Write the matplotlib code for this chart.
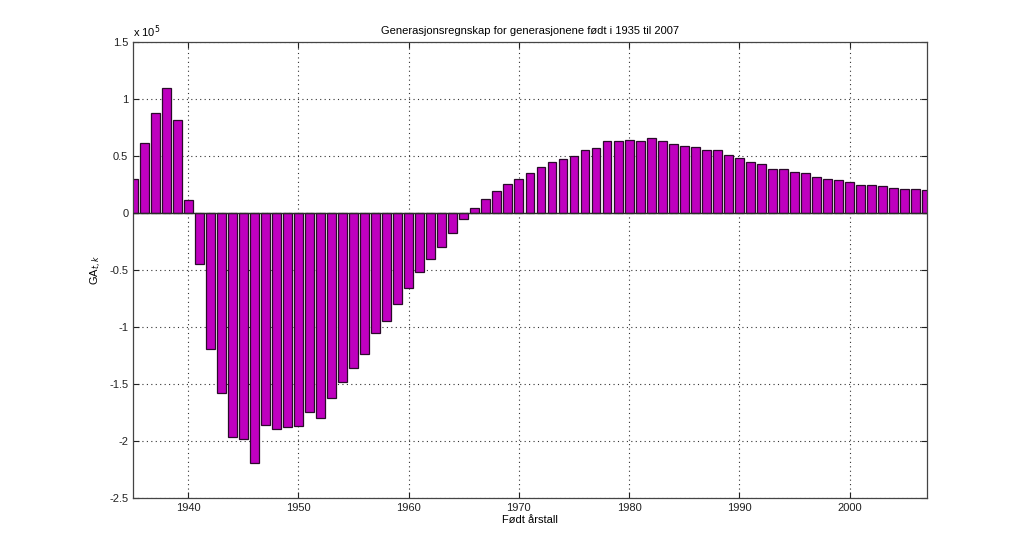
import matplotlib
matplotlib.use("Agg")
import matplotlib.pyplot as plt
from matplotlib.ticker import FuncFormatter, MultipleLocator

years = list(range(1935, 2008))
values_e5 = [
    0.30, 0.61, 0.876, 1.095, 0.814, 0.11,            # 1935-1940
    -0.446, -1.19, -1.58, -1.967, -1.98, -2.195,      # 1941-1946
    -1.86, -1.90, -1.88, -1.87, -1.747, -1.80,        # 1947-1952
    -1.627, -1.48, -1.36, -1.24, -1.056, -0.95,       # 1953-1958
    -0.80, -0.657, -0.522, -0.40, -0.297, -0.173,     # 1959-1964
    -0.056, 0.046, 0.12, 0.193, 0.25, 0.30,           # 1965-1970
    0.354, 0.404, 0.445, 0.474, 0.503, 0.55,          # 1971-1976
    0.574, 0.627, 0.627, 0.644, 0.63, 0.659,          # 1977-1982
    0.63, 0.609, 0.588, 0.583, 0.556, 0.55,           # 1983-1988
    0.512, 0.48, 0.448, 0.427, 0.389, 0.383,          # 1989-1994
    0.363, 0.348, 0.319, 0.298, 0.293, 0.272,         # 1995-2000
    0.249, 0.243, 0.234, 0.222, 0.207, 0.213, 0.199,  # 2001-2007
]
values = [v * 1e5 for v in values_e5]

plt.rcParams['font.family'] = ['Liberation Sans', 'DejaVu Sans']

fig = plt.figure(figsize=(10.24, 5.6), dpi=100)
ax = fig.add_axes([0.130, 0.111, 0.775, 0.814])

ax.bar(years, values, width=0.8, color='#BF00BF', edgecolor='#2a0a2a', linewidth=0.9, zorder=2)
ax.axhline(0, color='#2a2a2a', linewidth=1.0, zorder=3)

ax.set_xlim(1935, 2007)
ax.set_ylim(-2.5e5, 1.5e5)
ax.xaxis.set_major_locator(MultipleLocator(10))
ax.yaxis.set_major_locator(MultipleLocator(0.5e5))
ax.yaxis.set_major_formatter(FuncFormatter(lambda v, p: ('%g' % (v / 1e5))))

ax.grid(True, linestyle=(0, (1, 3)), color='#333333', linewidth=0.8, zorder=0)
ax.set_axisbelow(True)
ax.tick_params(direction='in', top=True, right=True, labelsize=8, length=4, width=0.8, colors='#222222')
for s in ax.spines.values():
    s.set_color('#444444')
    s.set_linewidth(0.9)

ax.set_title('Generasjonsregnskap for generasjonene født i 1935 til 2007', fontsize=8, pad=6)
ax.set_xlabel('Født årstall', fontsize=8, labelpad=2)
ax.set_ylabel(r'GA$_{t,k}$', fontsize=8, labelpad=4)
ax.text(0.0, 1.005, r'x 10$^5$', transform=ax.transAxes, fontsize=8, ha='left', va='bottom')

fig.savefig('out.png', dpi=100)
